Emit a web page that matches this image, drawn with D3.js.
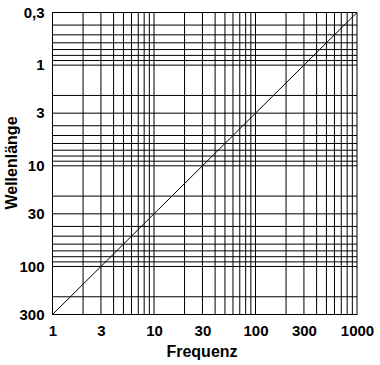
<!DOCTYPE html>
<html>
<head>
<meta charset="utf-8">
<script src="https://cdn.jsdelivr.net/npm/d3@7"></script>
<style>
  body { margin: 0; background: #fff; }
  text { font-family: "Liberation Sans", Arial, sans-serif; font-weight: bold; fill: #000; }
</style>
</head>
<body>
<svg id="chart" width="380" height="365"></svg>
<script>
// tick labels shown on the axes
const freqTicks = [1, 3, 10, 30, 100, 300, 1000];
const waveTicks = [0.3, 1, 3, 10, 30, 100, 300];
// grid positions (1-2-3-...-9 per decade)
const freqGrid = [2, 3, 4, 5, 6, 7, 8, 9, 10, 20, 30, 40, 50, 60, 70, 80, 90,
  100, 200, 300, 400, 500, 600, 700, 800, 900];
const waveGrid = [0.4, 0.5, 0.6, 0.7, 0.8, 0.9, 1, 2, 3, 4, 5, 6, 7, 8, 9,
  10, 20, 30, 40, 50, 60, 70, 80, 90, 100, 200];
// the line: wavelength = 300 / frequency
const linePoints = [
  { f: 1, w: 300 },
  { f: 1000, w: 0.3 }
];

const svg = d3.select('#chart');
const plot = { left: 52.5, right: 357, top: 12.5, bottom: 314.5 };

const x = d3.scaleLog().domain([1, 1000]).range([plot.left, plot.right]);
const y = d3.scaleLog().domain([0.3, 300]).range([plot.top, plot.bottom]);

const fmt = d => String(d).replace('.', ',');

const grid = svg.append('g').attr('stroke', '#000').attr('stroke-width', 1);

grid.selectAll('line.v')
  .data(freqGrid)
  .join('line')
  .attr('class', 'v')
  .attr('x1', d => x(d)).attr('x2', d => x(d))
  .attr('y1', plot.top).attr('y2', plot.bottom);

grid.selectAll('line.h')
  .data(waveGrid)
  .join('line')
  .attr('class', 'h')
  .attr('y1', d => y(d)).attr('y2', d => y(d))
  .attr('x1', plot.left).attr('x2', plot.right);

// frame
svg.append('rect')
  .attr('x', plot.left).attr('y', plot.top)
  .attr('width', plot.right - plot.left).attr('height', plot.bottom - plot.top)
  .attr('fill', 'none').attr('stroke', '#000').attr('stroke-width', 1);

// diagonal line
svg.append('path')
  .datum(linePoints)
  .attr('fill', 'none')
  .attr('stroke', '#000')
  .attr('stroke-width', 1)
  .attr('d', d3.line().x(d => x(d.f)).y(d => y(d.w)));

// axes (labels only)
const xAxis = d3.axisBottom(x).tickValues(freqTicks).tickFormat(fmt).tickSize(0).tickPadding(11);
const yAxis = d3.axisLeft(y).tickValues(waveTicks).tickFormat(fmt).tickSize(0).tickPadding(8);

const gx = svg.append('g').attr('transform', `translate(0,${plot.bottom})`).call(xAxis);
const gy = svg.append('g').attr('transform', `translate(${plot.left},0)`).call(yAxis);
[gx, gy].forEach(g => {
  g.select('.domain').remove();
  g.selectAll('text')
    .style('font-family', '"Liberation Sans", Arial, sans-serif')
    .style('font-weight', 'bold')
    .style('font-size', '15px')
    .attr('fill', '#000');
});

svg.append('text')
  .attr('x', 202)
  .attr('y', 357)
  .attr('text-anchor', 'middle')
  .style('font-size', '16px')
  .text('Frequenz');

svg.append('text')
  .attr('transform', `translate(16.5,163) rotate(-90)`)
  .attr('text-anchor', 'middle')
  .style('font-size', '16px')
  .text('Wellenlänge');
</script>
</body>
</html>
